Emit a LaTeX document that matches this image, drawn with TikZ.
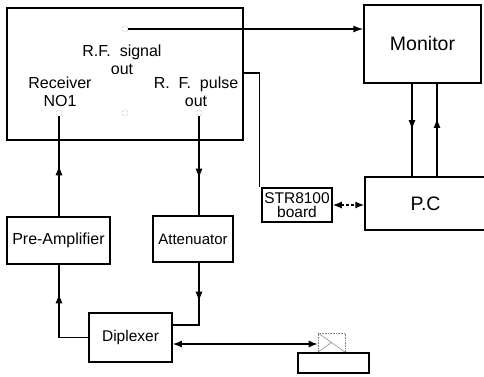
\documentclass[tikz,border=0pt]{standalone}
\usepackage{fontspec}
\setmainfont{Liberation Sans}
\usetikzlibrary{arrows.meta,decorations.markings}

\begin{document}
\begin{tikzpicture}[
  x=1pt,y=-1pt,
  line width=1.3pt,
  box/.style={draw,rectangle,line width=1.5pt,inner sep=0pt,align=center},
  lbl/.style={align=center,inner sep=0pt,font=\fontsize{16}{18}\selectfont},
  port/.style={circle,draw=gray!70,densely dotted,line width=0.5pt,
    minimum size=6pt,inner sep=0pt},
  arr/.style={-{Latex[length=10pt,width=7pt]}},
  dblarr/.style={{Latex[length=9pt,width=7pt]}-{Latex[length=9pt,width=7pt]}},
  midarr/.style={postaction={decorate},decoration={markings,
    mark=at position #1 with {\arrow{Latex[length=10pt,width=7pt]}}}}
]
  \useasboundingbox (0,0) rectangle (484,376);

  % receiver unit
  \node[box,minimum width=236,minimum height=132] (rx) at (125,74) {};
  \node[port] (sigout) at (125,29) {};
  \node[port] (rxin) at (59,113) {};
  \node[port] (spare) at (125,113) {};
  \node[port] (pulseout) at (199,113) {};
  \node[lbl] (sigtxt) at (122,60) {R.F.\ \ signal\\out};
  \node[lbl] (rxtxt) at (60,92) {Receiver\\NO1};
  \node[lbl] (pulsetxt) at (196,92) {R.\ \ F.\ \ pulse\\out};
  \coordinate (tap) at (243,73);

  % computer side
  \node[box,minimum width=117,minimum height=78,
    font=\fontsize{19.5}{20}\selectfont] (mon) at (422.5,44) {Monitor};
  \node[box,minimum width=121,minimum height=53,
    font=\fontsize{19.5}{20}\selectfont] (pc) at (425.5,203.5) {P.C};
  \node[box,minimum width=70,minimum height=34,
    font=\fontsize{15.5}{15}\selectfont] (board) at (297,205) {STR8100\\[-1pt]board};

  % front end
  \node[box,minimum width=103,minimum height=47,
    font=\fontsize{16}{16}\selectfont] (pre) at (58.5,240.5) {Pre-Amplifier};
  \node[box,minimum width=80,minimum height=46,
    font=\fontsize{15}{16}\selectfont] (att) at (193,239) {Attenuator};
  \node[box,minimum width=83,minimum height=49,
    font=\fontsize{15.5}{16}\selectfont] (dip) at (130.5,337.5) {Diplexer};

  % antenna
  \node[draw=gray,densely dotted,line width=0.6pt,minimum width=27,
    minimum height=19,inner sep=0pt] (ant) at (331.5,342.5) {};
  \draw[gray,line width=0.5pt] (ant.north west) -- (ant.south east)
    (ant.south west) -- (ant.center);
  \node[box,minimum width=71,minimum height=20] (base) at (333.5,363) {};

  % connectors
  \draw[arr] (sigout.east) -- (sigout.east -| mon.west);
  \draw (tap) -| ([xshift=-2pt]board.north west);
  \draw[midarr=0.5] ([xshift=-10.5pt]mon.south) -- ([xshift=-10.5pt]mon.south |- pc.north);
  \draw[midarr=0.63] ([xshift=14.5pt]mon.south |- pc.north) -- ([xshift=14.5pt]mon.south);
  \draw[dblarr,densely dashed] (board.east) -- (board.east -| pc.west);
  \draw[midarr=0.63] (pulseout.south) -- (pulseout.south |- att.north);
  \draw[midarr=0.44] (pulseout.south |- att.south) |- ([yshift=12.5pt]dip.east);
  \draw[midarr=0.72] (dip.west) -| (rxin.south |- pre.south);
  \draw[midarr=0.51] (rxin.south |- pre.north) -- (rxin.south);
  \draw[dblarr] ([yshift=-6.5pt]dip.east) -- ([yshift=-6.5pt]dip.east -| ant.west);
\end{tikzpicture}
\end{document}
